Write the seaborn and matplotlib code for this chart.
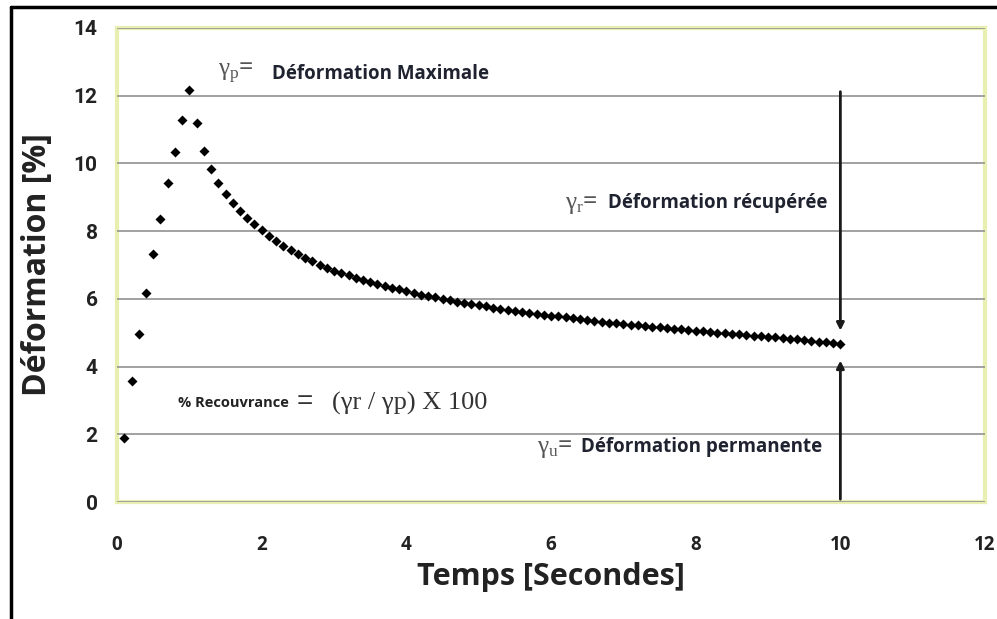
import matplotlib
matplotlib.use("Agg")
import matplotlib.pyplot as plt
import seaborn as sns
from matplotlib.lines import Line2D

# temps (s) et déformation (%)
temps = [round(0.1 * i, 1) for i in range(1, 101)]
deformation = [
    1.88, 3.58, 4.95, 6.17, 7.32, 8.37, 9.42, 10.33, 11.27, 12.17,
    11.20, 10.38, 9.84, 9.43, 9.11, 8.83, 8.60, 8.38, 8.20, 8.02,
    7.86, 7.71, 7.57, 7.45, 7.33, 7.21, 7.11, 7.01, 6.92, 6.83,
    6.76, 6.69, 6.62, 6.56, 6.50, 6.44, 6.38, 6.33, 6.28, 6.23,
    6.18, 6.12, 6.08, 6.04, 6.00, 5.96, 5.92, 5.88, 5.84, 5.81,
    5.78, 5.74, 5.71, 5.68, 5.65, 5.62, 5.59, 5.56, 5.53, 5.50,
    5.48, 5.45, 5.43, 5.40, 5.38, 5.35, 5.33, 5.30, 5.28, 5.26,
    5.24, 5.22, 5.20, 5.18, 5.16, 5.14, 5.12, 5.10, 5.08, 5.06,
    5.04, 5.02, 5.00, 4.98, 4.97, 4.95, 4.93, 4.91, 4.90, 4.88,
    4.86, 4.84, 4.82, 4.80, 4.78, 4.76, 4.74, 4.72, 4.70, 4.68,
]
x_ticks = [0, 2, 4, 6, 8, 10, 12]
y_ticks = [0, 2, 4, 6, 8, 10, 12, 14]

# fleches : gamma_r (haut) et gamma_u (bas) a t = 10
t_fleche = 10.0
gamma_p = 12.2
gamma_fin = 4.68

sns.set_style("white")
plt.rcParams["font.family"] = ["Open Sans", "DejaVu Sans"]
plt.rcParams["mathtext.fontset"] = "custom"
plt.rcParams["mathtext.rm"] = "Liberation Serif"
plt.rcParams["mathtext.it"] = "Liberation Serif"

fig = plt.figure(figsize=(9.97, 6.19), dpi=100)
ax = fig.add_axes([0.1174, 0.189, 0.8706, 0.7658])

for v in y_ticks:
    ax.axhline(v, color="#9a9a9a", lw=1.3, zorder=1)

sns.scatterplot(x=temps, y=deformation, marker="D", color="black",
                s=26, linewidth=0, ax=ax, zorder=4)

ax.set_xlim(0, 12)
ax.set_ylim(0, 14)
ax.set_xticks(x_ticks)
ax.set_yticks(y_ticks)
ax.set_xticklabels([str(v) for v in x_ticks], fontsize=13.5, fontweight="bold",
                   color="#222222")
ax.set_yticklabels([str(v) for v in y_ticks], fontsize=15, fontweight="bold",
                   family=["Roboto", "DejaVu Sans"], color="#222222")
ax.tick_params(axis="both", length=4, color="#9a9a9a", width=1)
ax.tick_params(axis="x", pad=20)
ax.tick_params(axis="y", pad=10)

for sp in ax.spines.values():
    sp.set_color("#e8efb0")
    sp.set_linewidth(3)
    sp.set_zorder(0)

ax.set_xlabel("Temps [Secondes]", fontsize=22, fontweight="bold", labelpad=5,
              color="#222222")
ax.set_ylabel("Déformation [%]", fontsize=23, fontweight="bold", labelpad=14,
              color="#222222")

# fleches
ax.annotate("", xy=(t_fleche, gamma_fin + 0.3), xytext=(t_fleche, gamma_p),
            arrowprops=dict(arrowstyle="-|>", color="#1a1a1a", lw=2,
                            mutation_scale=11), zorder=5)
ax.annotate("", xy=(t_fleche, gamma_fin - 0.42), xytext=(t_fleche, 0),
            arrowprops=dict(arrowstyle="-|>", color="#1a1a1a", lw=2,
                            mutation_scale=11), zorder=5)

# annotations
ax.text(1.40, 12.65, r"$\mathrm{\gamma_p}$=", fontsize=18, color="#555555",
        va="center", ha="left")
ax.text(2.14, 12.65, "Déformation Maximale", fontsize=13.5, fontweight="bold",
        va="center", ha="left", color="#1f2330")

ax.text(6.64, 8.82, r"$\mathrm{\gamma_r}$=", fontsize=18, color="#555555",
        va="center", ha="right")
ax.text(9.82, 8.82, "Déformation récupérée", fontsize=13.5, fontweight="bold",
        va="center", ha="right", color="#1f2330")

ax.text(6.30, 1.62, r"$\mathrm{\gamma_u}$=", fontsize=18, color="#555555",
        va="center", ha="right")
ax.text(9.75, 1.62, "Déformation permanente", fontsize=13.5, fontweight="bold",
        va="center", ha="right", color="#1f2330")

ax.text(0.84, 2.92, "% Recouvrance", fontsize=10.5, fontweight="bold",
        va="center", ha="left", color="#222222")
ax.text(2.6, 2.95, "=", fontsize=20, va="center", ha="center",
        color="#333333", family="Liberation Sans")
ax.text(2.97, 2.92, "(γr / γp) X 100", fontsize=19, va="center", ha="left",
        color="#333333", family="Liberation Serif")

# cadre de la capture (gauche et haut)
fig.add_artist(Line2D([0.011, 0.011], [0, 0.9887], transform=fig.transFigure,
                      color="black", lw=2.5))
fig.add_artist(Line2D([0.011, 1.0], [0.9887, 0.9887], transform=fig.transFigure,
                      color="black", lw=2.5))

plt.savefig("out.png", dpi=100)
